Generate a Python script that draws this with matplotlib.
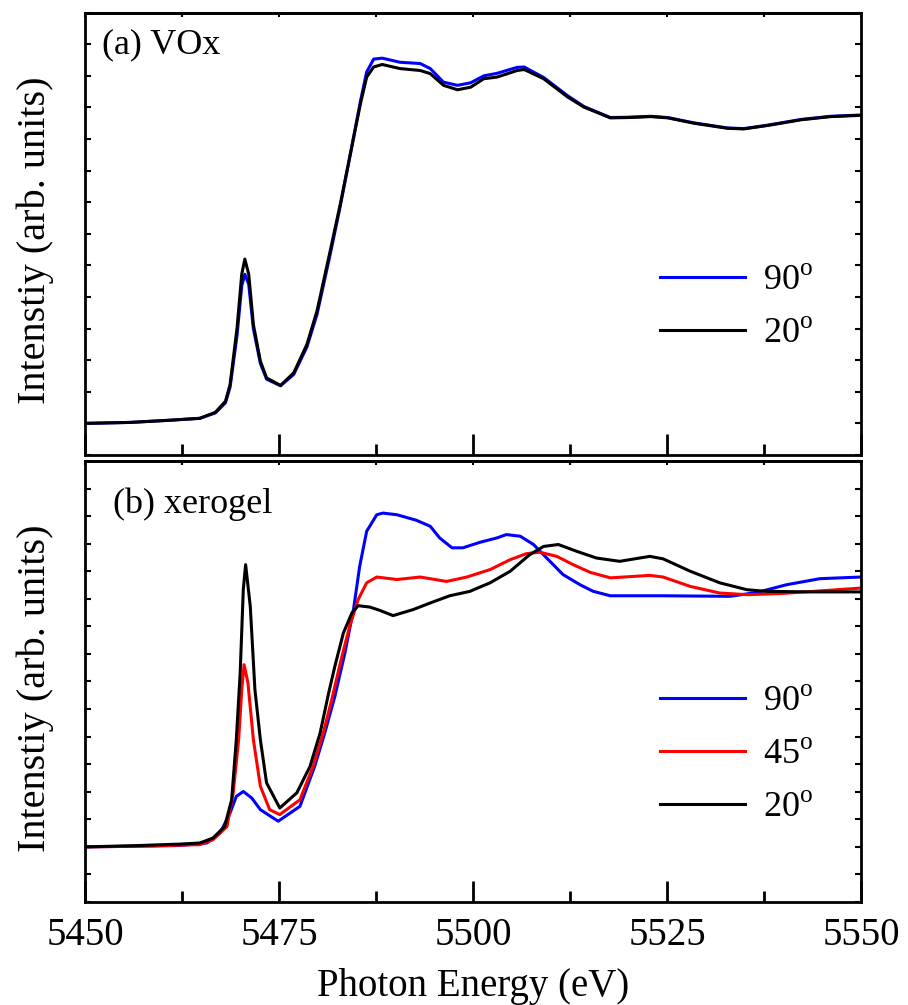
import numpy as np
import matplotlib
matplotlib.use('Agg')
import matplotlib.pyplot as plt
from matplotlib.ticker import MultipleLocator

plt.rcParams['font.family'] = 'Liberation Serif'
plt.rcParams['mathtext.fontset'] = 'custom'
plt.rcParams['mathtext.rm'] = 'Liberation Serif'

# (a) VOx
E_vox = [5450.0, 5455.8, 5461.0, 5464.8, 5466.8, 5468.1, 5468.7, 5469.6, 5470.2, 5470.6,
         5471.1, 5471.7, 5472.6, 5473.4, 5475.2, 5476.9, 5478.6, 5479.9, 5481.6, 5482.9,
         5484.2, 5485.5, 5486.3, 5487.2, 5488.3, 5490.6, 5493.2, 5494.5, 5496.2, 5498.0,
         5499.7, 5501.4, 5503.1, 5505.7, 5506.6, 5509.1, 5512.2, 5514.3, 5517.7, 5520.0,
         5522.9, 5525.1, 5528.5, 5532.8, 5534.9, 5538.0, 5542.3, 5546.1, 5550.0]
vox_20 = [0.000, 0.003, 0.010, 0.016, 0.035, 0.070, 0.123, 0.303, 0.472, 0.520,
          0.472, 0.313, 0.197, 0.144, 0.120, 0.160, 0.250, 0.356, 0.546, 0.694,
          0.853, 1.012, 1.096, 1.128, 1.136, 1.123, 1.117, 1.107, 1.070, 1.056,
          1.064, 1.091, 1.096, 1.117, 1.120, 1.091, 1.033, 1.001, 0.967, 0.968,
          0.971, 0.967, 0.950, 0.934, 0.932, 0.943, 0.961, 0.971, 0.975]
vox_90 = [0.000, 0.003, 0.010, 0.016, 0.033, 0.065, 0.115, 0.280, 0.435, 0.472,
          0.440, 0.300, 0.190, 0.140, 0.119, 0.155, 0.242, 0.345, 0.535, 0.688,
          0.853, 1.020, 1.112, 1.153, 1.156, 1.143, 1.139, 1.123, 1.080, 1.070,
          1.078, 1.100, 1.108, 1.127, 1.128, 1.095, 1.037, 1.003, 0.968, 0.969,
          0.972, 0.968, 0.951, 0.935, 0.933, 0.944, 0.962, 0.972, 0.976]

# (b) xerogel
E_xg20 = [5450.0, 5456.0, 5462.2, 5464.8, 5466.5, 5468.0, 5468.9, 5469.5, 5470.0, 5470.4,
          5470.7, 5471.3, 5471.9, 5472.6, 5473.4, 5475.1, 5477.3, 5479.0, 5480.3, 5481.4,
          5482.2, 5483.3, 5484.4, 5485.2, 5486.7, 5488.0, 5489.7, 5492.3, 5494.5, 5497.0,
          5499.6, 5502.2, 5504.8, 5507.3, 5509.1, 5511.0, 5513.4, 5515.9, 5518.9, 5522.8,
          5524.5, 5528.0, 5531.8, 5535.3, 5537.8, 5543.9, 5550.0]
xg_20 = [0.000, 0.004, 0.010, 0.014, 0.032, 0.074, 0.171, 0.389, 0.631, 0.933,
         1.024, 0.873, 0.570, 0.389, 0.232, 0.141, 0.196, 0.292, 0.413, 0.558,
         0.655, 0.776, 0.849, 0.875, 0.870, 0.858, 0.839, 0.861, 0.885, 0.911,
         0.927, 0.958, 1.000, 1.060, 1.090, 1.097, 1.072, 1.048, 1.036, 1.054,
         1.045, 1.000, 0.958, 0.933, 0.927, 0.925, 0.925]

E_xg45 = [5450.0, 5456.0, 5462.2, 5464.8, 5466.5, 5468.3, 5469.1, 5469.8, 5470.2, 5470.5,
          5471.0, 5471.7, 5472.6, 5473.8, 5475.1, 5477.7, 5479.4, 5480.7, 5481.8, 5482.9,
          5484.1, 5485.2, 5486.3, 5487.6, 5490.2, 5493.2, 5496.6, 5499.2, 5502.2, 5504.8,
          5506.9, 5508.6, 5510.8, 5512.9, 5515.1, 5517.7, 5522.8, 5524.5, 5528.0, 5531.8,
          5535.3, 5539.6, 5543.9, 5550.0]
xg_45 = [0.000, 0.002, 0.006, 0.008, 0.026, 0.074, 0.196, 0.389, 0.570, 0.661,
         0.595, 0.389, 0.220, 0.135, 0.117, 0.171, 0.292, 0.413, 0.534, 0.667,
         0.800, 0.897, 0.958, 0.979, 0.970, 0.979, 0.963, 0.979, 1.006, 1.042,
         1.064, 1.069, 1.054, 1.024, 0.996, 0.976, 0.985, 0.979, 0.945, 0.921,
         0.915, 0.919, 0.927, 0.939]

E_xg90 = [5450.0, 5456.0, 5462.2, 5465.7, 5467.4, 5468.7, 5469.5, 5470.4, 5471.5, 5472.6,
          5474.9, 5477.7, 5479.6, 5480.9, 5482.2, 5483.5, 5484.6, 5485.4, 5486.3, 5487.6,
          5488.4, 5490.2, 5492.7, 5494.5, 5495.7, 5497.3, 5498.7, 5500.9, 5503.1, 5504.3,
          5506.1, 5507.8, 5509.5, 5511.6, 5513.8, 5515.5, 5517.7, 5524.5, 5533.1, 5536.6,
          5540.4, 5544.7, 5550.0]
xg_90 = [0.000, 0.002, 0.005, 0.014, 0.050, 0.123, 0.183, 0.201, 0.177, 0.135,
         0.093, 0.147, 0.292, 0.413, 0.546, 0.704, 0.861, 1.018, 1.145, 1.205,
         1.211, 1.205, 1.185, 1.163, 1.121, 1.085, 1.085, 1.105, 1.121, 1.133,
         1.127, 1.097, 1.048, 0.988, 0.951, 0.927, 0.911, 0.911, 0.909, 0.923,
         0.951, 0.973, 0.979]

xticks = [5450, 5475, 5500, 5525, 5550]

fig = plt.figure(figsize=(9.08, 10.05), dpi=100)
ax1 = fig.add_axes([0.0936, 0.5473, 0.8546, 0.4401])
ax2 = fig.add_axes([0.0936, 0.1025, 0.8546, 0.4388])

lw = 2.2
ax1.plot(E_vox, vox_90, color='#0000ff', lw=lw, label='90$^{\\rm o}$')
ax1.plot(E_vox, vox_20, color='black', lw=lw, label='20$^{\\rm o}$')
ax1.set_ylim(-0.1, 1.3)

ax2.plot(E_xg90, xg_90, color='#0000ff', lw=lw, label='90$^{\\rm o}$')
ax2.plot(E_xg45, xg_45, color='#ff0000', lw=lw, label='45$^{\\rm o}$')
ax2.plot(E_xg20, xg_20, color='black', lw=lw, label='20$^{\\rm o}$')
ax2.set_ylim(-0.2, 1.4)

for ax in (ax1, ax2):
    ax.set_xlim(5450, 5550)
    ax.set_xticks(xticks)
    ax.xaxis.set_minor_locator(MultipleLocator(12.5))
    ax.yaxis.set_major_locator(MultipleLocator(0.1))
    ax.tick_params(axis='x', which='major', direction='in', length=15, width=2)
    ax.tick_params(axis='x', which='minor', direction='in', length=8, width=2)
    ax.tick_params(axis='y', which='major', direction='in', length=4, width=1.5,
                   left=True, right=True, labelleft=False)
    for s in ax.spines.values():
        s.set_linewidth(2)
    top = ax.secondary_xaxis('top')
    top.set_xticks(np.arange(5450, 5551, 12.5))
    top.tick_params(direction='in', length=3, width=1.5, labeltop=False)
    top.spines['top'].set_linewidth(2)
    ax.set_ylabel('Intenstiy (arb. units)', fontsize=29)
    ax.yaxis.set_label_coords(-0.04, 0.485)
    ax.legend(loc='center left', bbox_to_anchor=(0.741, 0.333), frameon=False,
              fontsize=26, handlelength=2.35, handletextpad=0.5, labelspacing=0.55,
              borderpad=0, borderaxespad=0)

ax1.tick_params(axis='x', labelbottom=False)
ax2.tick_params(axis='x', which='major', labelsize=28, pad=11)
ax2.set_xlabel('Photon Energy (eV)', fontsize=28, labelpad=10)

ax1.text(0.022, 0.927, '(a) VOx', transform=ax1.transAxes, fontsize=26, va='center')
ax2.text(0.036, 0.903, '(b) xerogel', transform=ax2.transAxes, fontsize=26, va='center')

fig.savefig('out.png', dpi=100)
